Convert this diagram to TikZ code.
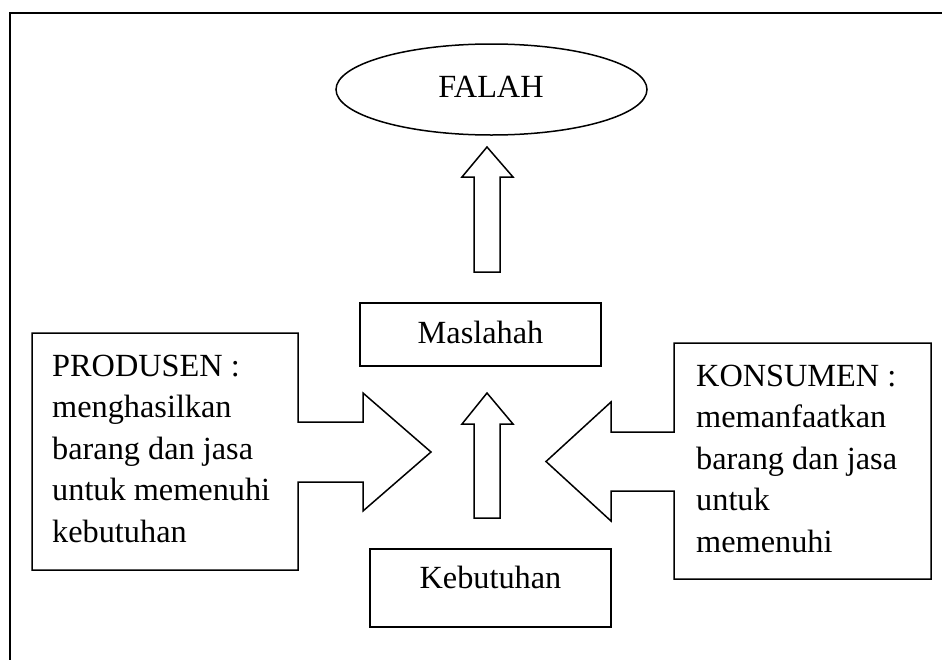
\documentclass[tikz,border=0pt]{standalone}
\usepackage{fontspec}
\setmainfont{Liberation Serif}
\usetikzlibrary{shapes.geometric}
\begin{document}
\begin{tikzpicture}[x=1pt,y=-1pt,
  outline/.style={draw=black,line width=1.5pt,line join=miter},
  frameline/.style={draw=black,line width=2.2pt},
  txt/.style={inner sep=0pt,font=\fontsize{32.3}{41.5}\selectfont},
  boxnode/.style={outline,rectangle,inner sep=0pt}]
\useasboundingbox (0,0) rectangle (942,659);
\clip (0,0) rectangle (942,659);
% outer frame (open at right and bottom)
\draw[frameline] (10,700) -- (10,13) -- (1000,13);

% FALAH ellipse
\node[outline,ellipse,minimum width=311pt,minimum height=91pt,inner sep=0pt] (falah) at (491.5,89.5) {};
\node[txt,anchor=base] (falahtext) at (491,97) {FALAH};

% Maslahah box
\node[boxnode,minimum width=241pt,minimum height=63pt] (maslahah) at (480.5,334.5) {};
\node[txt,anchor=base] (maslahahtext) at (480.5,343) {Maslahah};

% Kebutuhan box
\node[boxnode,minimum width=241pt,minimum height=78pt] (kebutuhan) at (490.5,588) {};
\node[txt,anchor=base] (kebutuhantext) at (490.5,588) {Kebutuhan};

% upper block arrow: Maslahah -> FALAH
\coordinate (up1tip) at (487,147);
\draw[outline] (474,272) -- (474,177) -- (462,177) -- (up1tip) -- (513,177) -- (500,177) -- (500,272) -- cycle;

% middle block arrow: Kebutuhan -> Maslahah
\coordinate (up2tip) at (487,393);
\draw[outline] (474,518) -- (474,424) -- (462,424) -- (up2tip) -- (513,424) -- (500,424) -- (500,518) -- cycle;

% PRODUSEN callout with right-pointing arrow
\coordinate (prodtip) at (431,452);
\draw[outline] (298,422) -- (298,333) -- (32,333) -- (32,570) -- (298,570) -- (298,482)
  -- (363,482) -- (363,511) -- (prodtip) -- (363,393) -- (363,422) -- cycle;
\node[txt,align=left,anchor=base west] (produsen) at (52,542)
  {PRODUSEN :\\menghasilkan\\barang dan jasa\\untuk memenuhi\\kebutuhan};

% KONSUMEN callout with left-pointing arrow
\coordinate (konstip) at (546,461.5);
\draw[outline] (674,432) -- (674,343) -- (931,343) -- (931,579) -- (674,579) -- (674,491)
  -- (611,491) -- (611,521) -- (konstip) -- (611,402) -- (611,432) -- cycle;
\node[txt,align=left,anchor=base west] (konsumen) at (696,552)
  {KONSUMEN :\\memanfaatkan\\barang dan jasa\\untuk\\memenuhi};
\end{tikzpicture}
\end{document}
